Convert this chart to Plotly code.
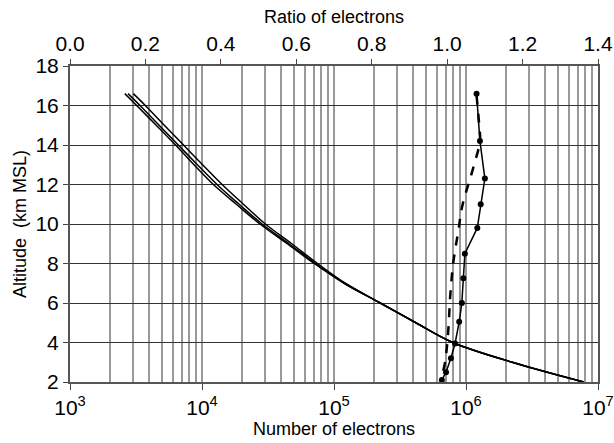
import plotly.graph_objects as go

# altitude (km MSL) for the electron number profiles
alt_n = [16.6, 16, 15, 14, 13, 12, 11, 10, 9, 8, 7, 6, 5, 4, 3, 2]
# three nearly overlapping profiles (number of electrons)
n_left = [2600, 3200, 4500, 6300, 8700, 12200, 18200, 27500, 44200, 70800,
          119000, 224000, 417000, 794000, 2240000, 7800000]
n_mid = [2750, 3390, 4730, 6610, 9230, 13000, 19100, 28500, 45700, 72400,
         120000, 224000, 417000, 794000, 2240000, 7800000]
n_right = [3020, 3720, 5180, 7240, 10100, 14200, 20600, 30200, 47900, 75000,
           122000, 224000, 417000, 794000, 2240000, 7800000]

# ratio of electrons (top axis)
alt_dots = [16.6, 14.2, 12.3, 11.0, 9.8, 8.5, 7.25, 6.0, 5.05, 3.95, 3.2, 2.5, 2.1]
ratio_dots = [1.078, 1.087, 1.100, 1.089, 1.080, 1.047, 1.043, 1.039, 1.032,
              1.021, 1.010, 0.997, 0.986]
alt_dash = [16.5, 15.0, 14.2, 12.9, 10.9, 9.7, 8.0, 6.3, 4.6, 2.95, 2.1]
ratio_dash = [1.078, 1.085, 1.087, 1.070, 1.040, 1.030, 1.016, 1.008, 1.003,
              0.994, 0.983]

decades = [1e3, 1e4, 1e5, 1e6, 1e7]
decade_text = ["10<sup>3</sup>", "10<sup>4</sup>", "10<sup>5</sup>",
               "10<sup>6</sup>", "10<sup>7</sup>"]
minor_vals = [m * d for d in decades[:-1] for m in range(2, 10)]

FONT = "Liberation Sans, Arial, sans-serif"

fig = go.Figure()
for n in (n_left, n_mid, n_right):
    fig.add_trace(go.Scatter(x=n, y=alt_n, mode="lines", line_shape="spline",
                             line=dict(color="black", width=1.5),
                             showlegend=False))

fig.add_trace(go.Scatter(x=ratio_dash, y=alt_dash, xaxis="x2", mode="lines",
                         line_shape="spline",
                         line=dict(color="black", width=2.5, dash="dash"),
                         showlegend=False))
fig.add_trace(go.Scatter(x=ratio_dots, y=alt_dots, xaxis="x2", mode="lines+markers",
                         line=dict(color="black", width=1.5),
                         marker=dict(color="black", size=6),
                         showlegend=False))

fig.update_layout(
    width=614, height=443,
    margin=dict(l=70, r=16, t=66, b=61),
    paper_bgcolor="white", plot_bgcolor="white",
    font=dict(family=FONT, size=21, color="black"),
    xaxis=dict(type="log", range=[3, 7], tickmode="array",
               tickvals=decades, ticktext=decade_text,
               ticks="outside", ticklen=6, tickcolor="#444",
               showgrid=True, gridcolor="#999", gridwidth=1.5,
               minor=dict(tickmode="array", tickvals=minor_vals,
                          showgrid=True, gridcolor="#999", gridwidth=1.5),
               showline=True, linecolor="#555", linewidth=2, mirror=True,
               title=dict(text="Number of electrons", font=dict(size=18),
                          standoff=4),
               automargin=False, zeroline=False),
    xaxis2=dict(overlaying="x", side="top", range=[0, 1.4], dtick=0.2,
                tickformat=".1f", ticks="outside", ticklen=6, tickcolor="#444",
                showgrid=False, zeroline=False, automargin=False,
                title=dict(text="Ratio of electrons", font=dict(size=18),
                           standoff=3)),
    yaxis=dict(range=[2, 18], dtick=2, ticks="outside", ticklen=5,
               tickcolor="#444", showgrid=True, gridcolor="#333", gridwidth=1,
               showline=True, linecolor="#555", linewidth=2, mirror=True,
               zeroline=False, automargin=False,
               title=dict(text="Altitude  (km MSL)", font=dict(size=18),
                          standoff=4)),
)

# drop the page's default body margin so the 614x443 figure fills the window
fig.write_html("out.html", config={"displayModeBar": False},
               post_script="document.body.style.margin='0';"
                           "document.body.style.overflow='hidden';")
